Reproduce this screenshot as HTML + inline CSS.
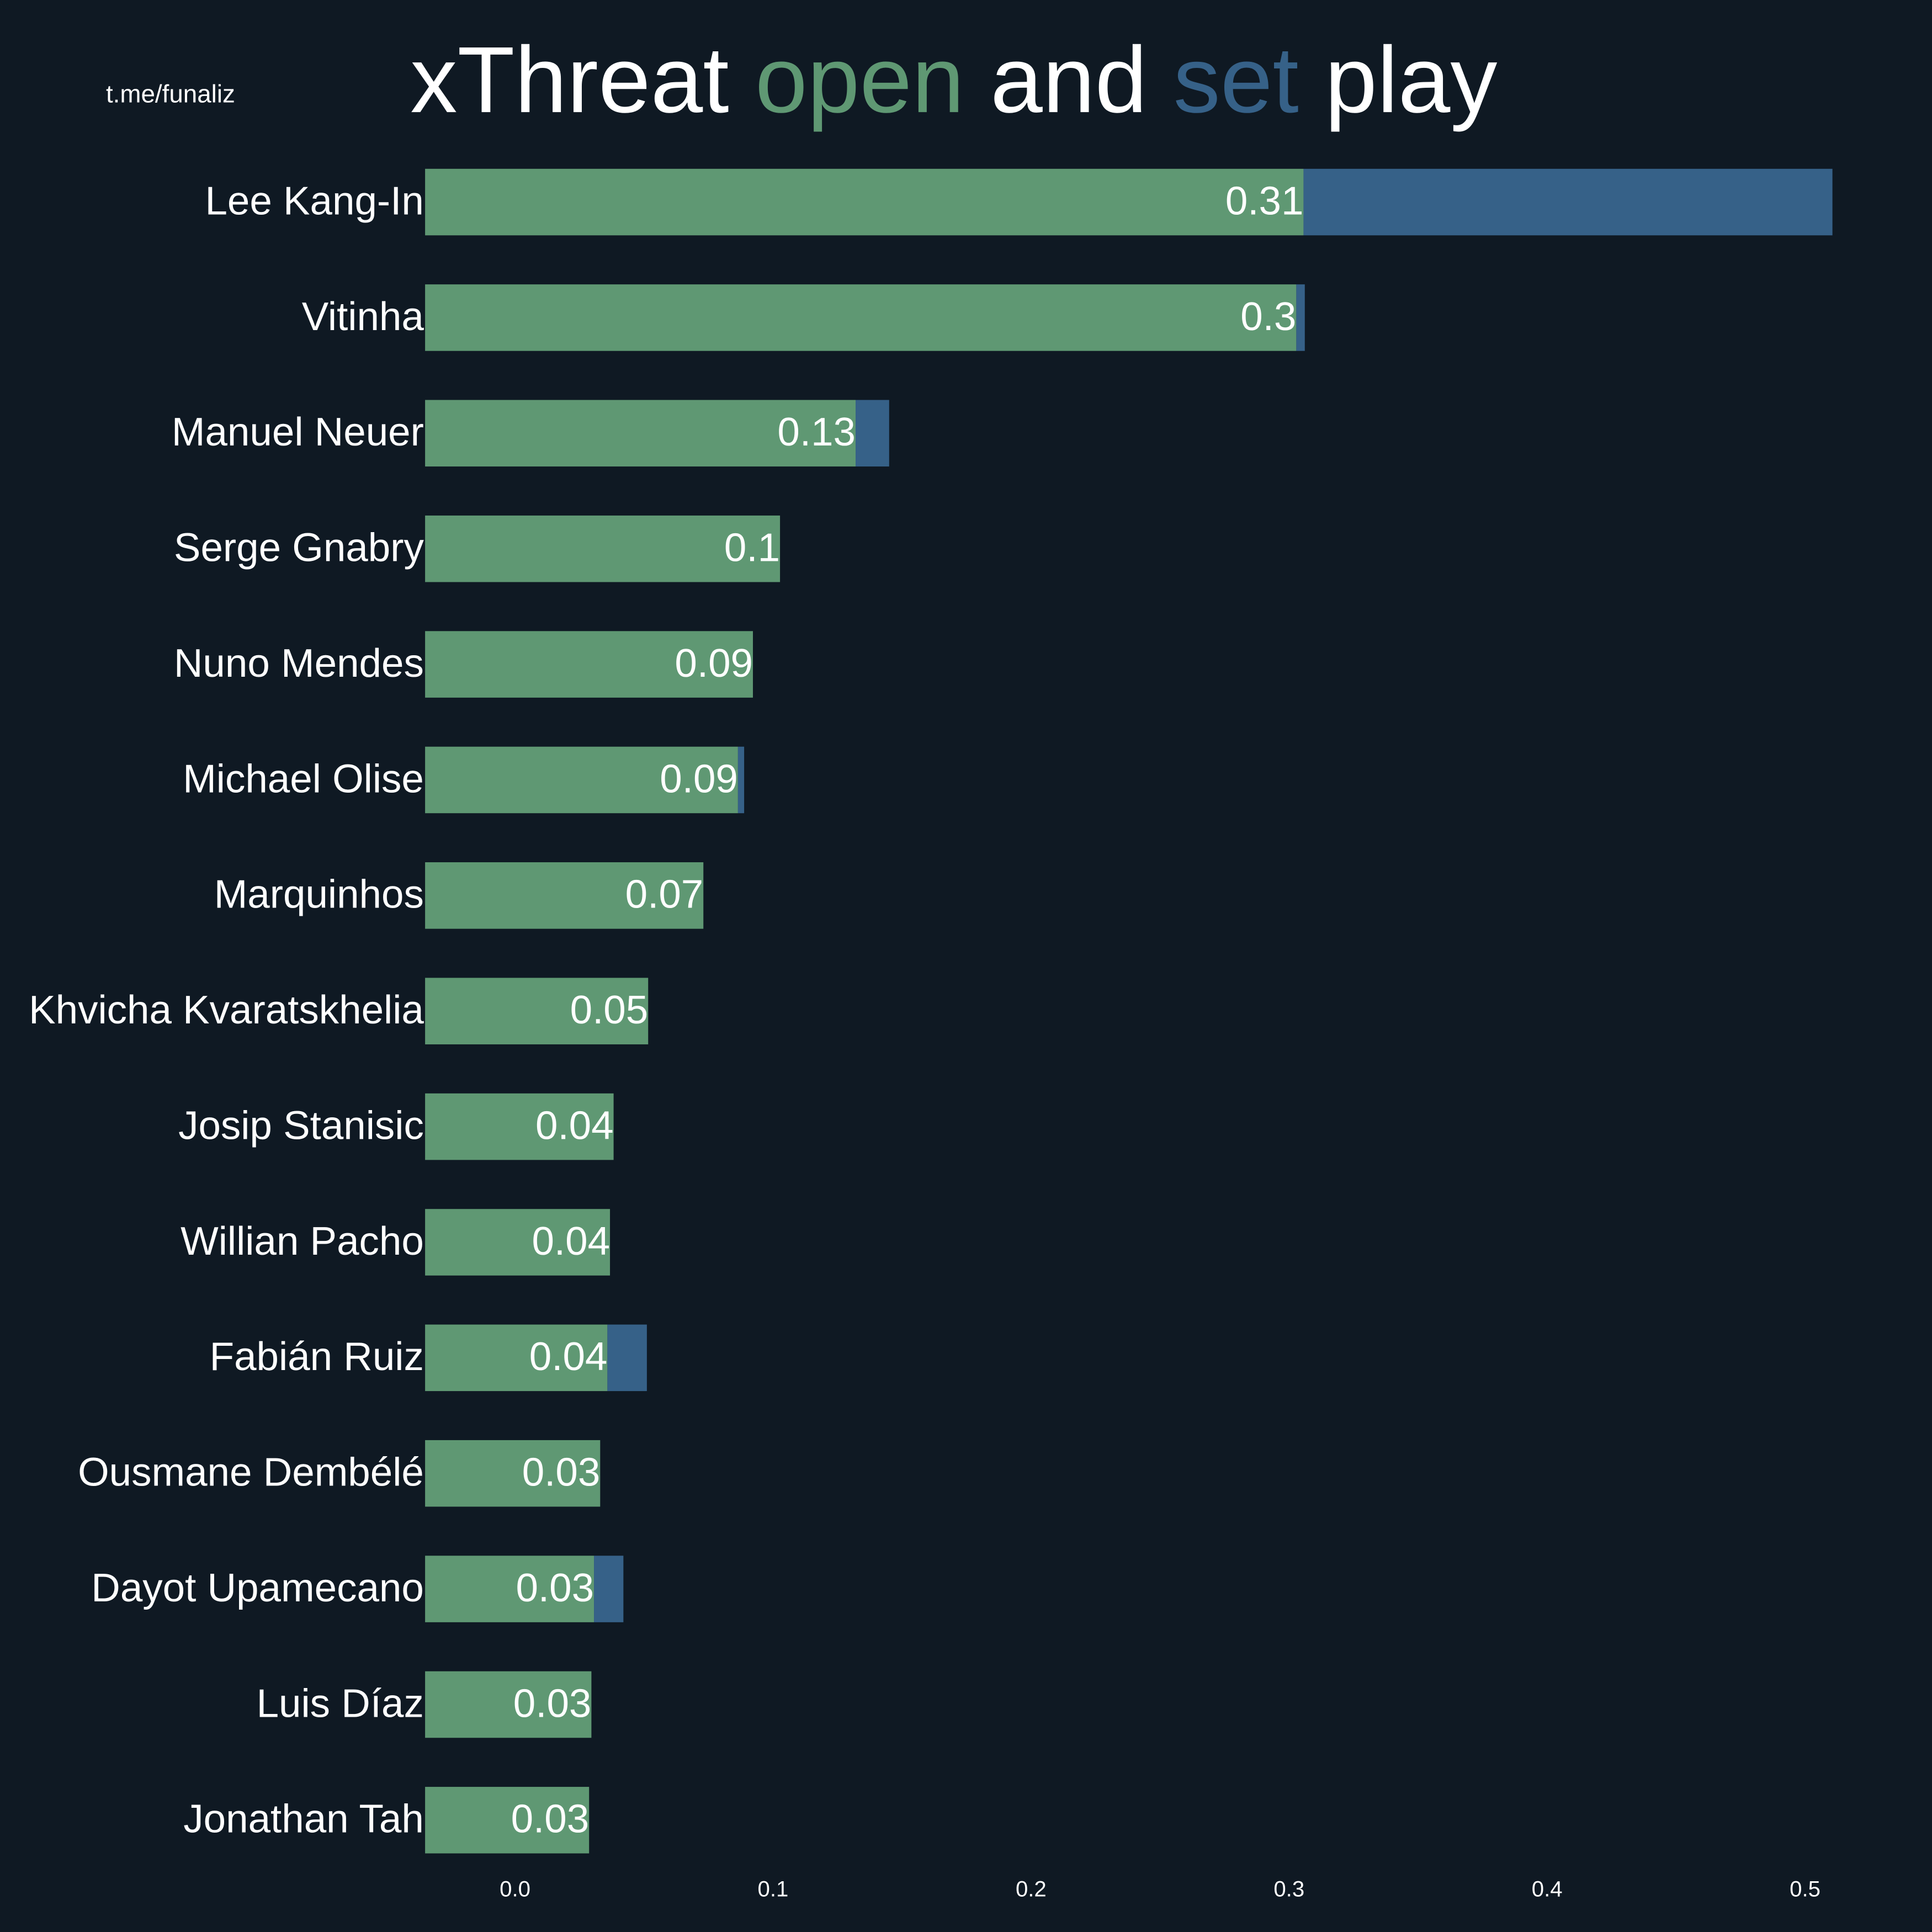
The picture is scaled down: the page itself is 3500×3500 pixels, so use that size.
<!DOCTYPE html>
<html><head><meta charset="utf-8"><style>
html,body{margin:0;padding:0;background:#0f1923;}
svg{display:block;font-family:"Liberation Sans",Arial,sans-serif;}
</style></head><body>
<svg id="chart" width="3500" height="3500" viewBox="0 0 1568 1568" xmlns="http://www.w3.org/2000/svg">
<rect width="1568" height="1568" fill="#0f1923"/>
<text x="86" y="83" font-size="20.5" fill="#ffffff">t.me/funaliz</text>
<text x="333" y="91" font-size="76.3" fill="#ffffff">xThreat <tspan fill="#5f9873">open</tspan> and <tspan fill="#366188">set</tspan> play</text>
<g id="bars"></g>
<g id="ticks"></g>
</svg>
<script>
const players = ["Lee Kang-In","Vitinha","Manuel Neuer","Serge Gnabry","Nuno Mendes","Michael Olise","Marquinhos","Khvicha Kvaratskhelia","Josip Stanisic","Willian Pacho","Fabián Ruiz","Ousmane Dembélé","Dayot Upamecano","Luis Díaz","Jonathan Tah"];
const openPlay = [0.3056,0.3028,0.132,0.1027,0.0922,0.0864,0.073,0.0516,0.0382,0.0368,0.0358,0.033,0.0306,0.0296,0.0287];
const setPlay = [0.205,0.0033,0.013,0,0,0.0024,0,0,0,0,0.0153,0,0.0114,0,0];
const xTicks = [0.0,0.1,0.2,0.3,0.4,0.5];

const NS="http://www.w3.org/2000/svg";
const x0Px=418, pxPerUnit=2094, xMinPx=345;
function xs(v){return x0Px+v*pxPerUnit;}
function ys(i){return 164+i*93.8;}
const barH=54;
const gb=document.getElementById('bars');
function mk(tag,attrs){const e=document.createElementNS(NS,tag);for(const k in attrs)e.setAttribute(k,attrs[k]);return e;}
players.forEach((p,i)=>{
  const cy=ys(i);
  const oEnd=xs(openPlay[i]);
  const r=mk('rect',{x:xMinPx,y:cy-barH/2,width:oEnd-xMinPx,height:barH,fill:'#5f9873'});
  
  
  gb.appendChild(r);
  if(setPlay[i]>0){
    const s=mk('rect',{x:oEnd,y:cy-barH/2,width:xs(openPlay[i]+setPlay[i])-oEnd,height:barH,fill:'#366188'});
    
    
    gb.appendChild(s);
  }
  const n=mk('text',{x:344,y:cy+10,'font-size':32.6,fill:'#ffffff','text-anchor':'end'});
  n.textContent=p;
  
  
  gb.appendChild(n);
  const v=mk('text',{x:oEnd,y:cy+10,'font-size':32.6,fill:'#ffffff','text-anchor':'end'});
  v.textContent=String(parseFloat(openPlay[i].toFixed(2)));
  
  
  gb.appendChild(v);
});
const gt=document.getElementById('ticks');
xTicks.forEach(t=>{
  const e=mk('text',{x:xs(t),y:1539,'font-size':18,fill:'#ffffff','text-anchor':'middle'});
  e.textContent=t.toFixed(1);
  
  
  gt.appendChild(e);
});
</script>
</body></html>
